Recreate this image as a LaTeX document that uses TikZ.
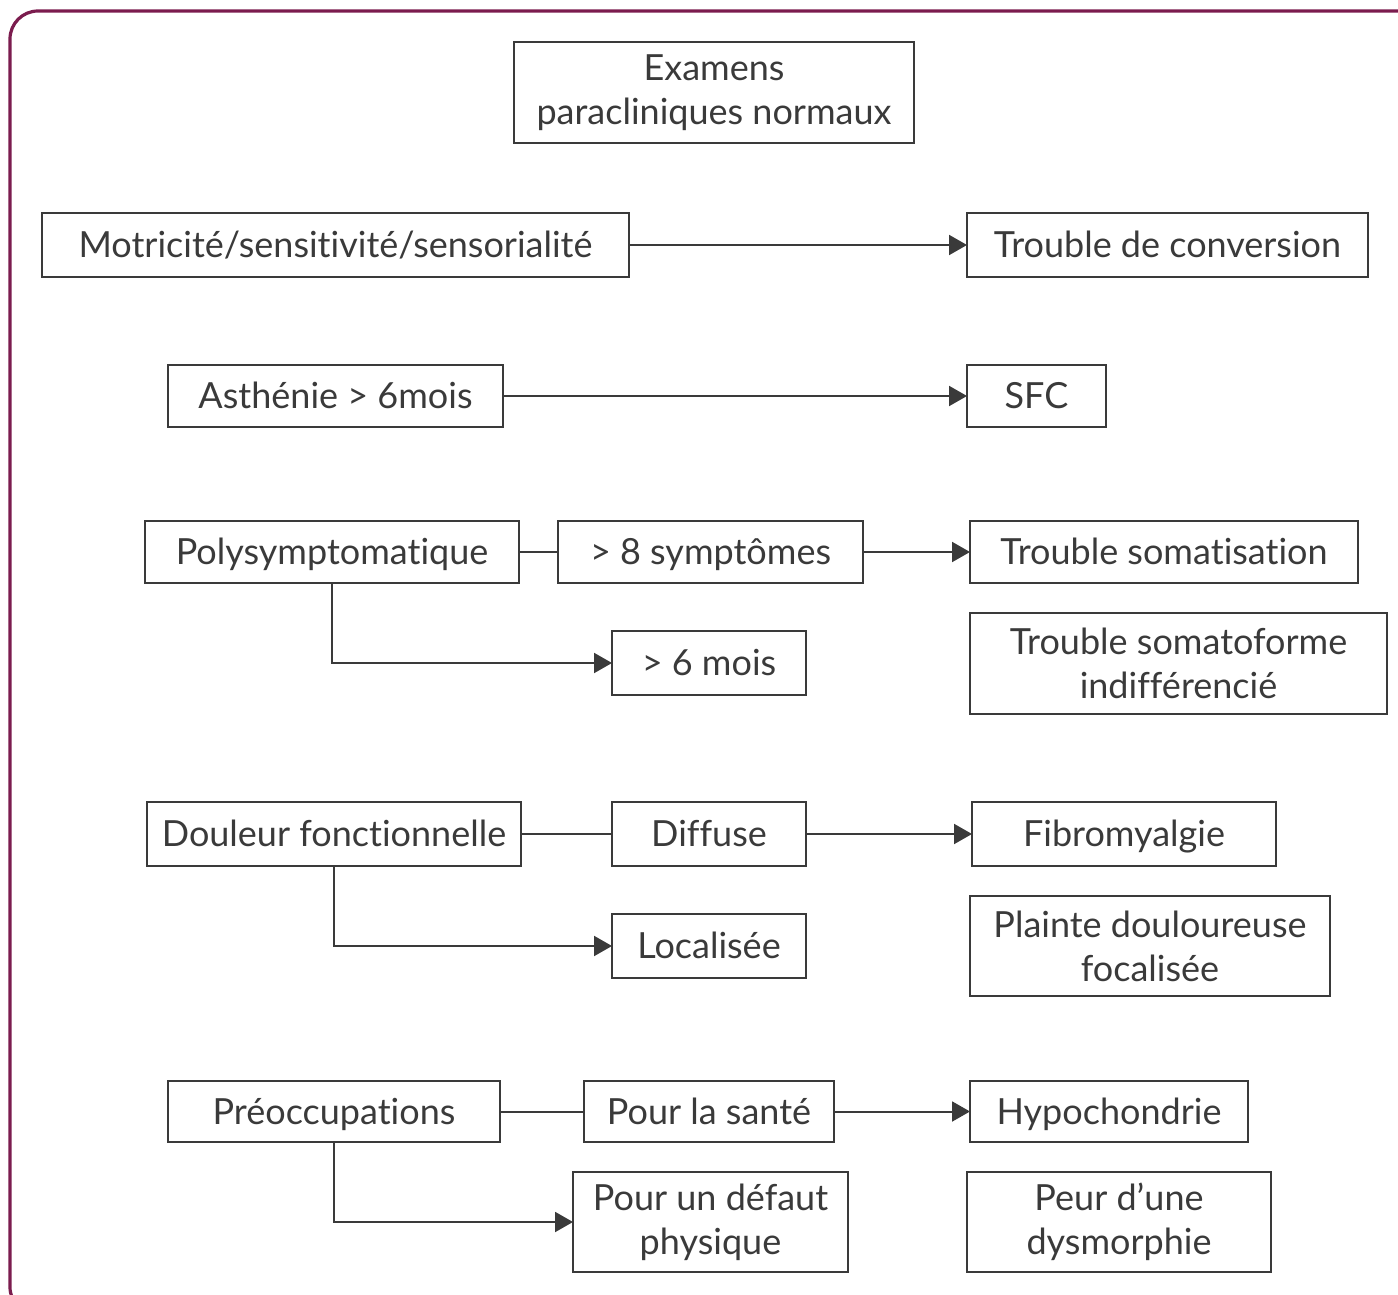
\documentclass[tikz,border=0pt]{standalone}
\usepackage{fontspec}
\setmainfont{Lato}[Ligatures={NoCommon}]
\usetikzlibrary{arrows.meta}
\definecolor{framec}{HTML}{7B1C4E}
\definecolor{ink}{HTML}{3A3A3A}
\begin{document}
\begin{tikzpicture}[x=0.5pt,y=-0.5pt,
  box/.style={draw=ink, line width=1pt, inner sep=0pt, outer sep=0pt, align=center,
    text=ink, font=\fontsize{18}{22}\selectfont},
  one/.style={box, text height=12.8pt, text depth=0pt},
  conn/.style={draw=ink, line width=1pt},
  arr/.style={conn, -{Triangle[length=9pt,width=10pt]}}]
\useasboundingbox (0,0) rectangle (1398,1295);
\begin{scope}
\clip (0,0) rectangle (1398,1295);
\draw[framec, line width=1.6pt, rounded corners=14pt] (10,11) rectangle (1430,1315);
\end{scope}
\node[box, minimum width=200pt, minimum height=50.5pt] (exam) at (714,92.5) {Examens\\paracliniques normaux};
\node[one, minimum width=293.5pt, minimum height=32pt] (mot) at (335.5,245) {Motricité/sensitivité/sensorialité};
\node[one, minimum width=200.5pt, minimum height=32pt] (conv) at (1167.5,245) {Trouble de conversion};
\node[one, minimum width=167.5pt, minimum height=31pt] (asth) at (335.5,396) {Asthénie > 6mois};
\node[one, minimum width=69.5pt, minimum height=31pt] (sfc) at (1036.5,396) {SFC};
\node[one, minimum width=187pt, minimum height=31pt] (poly) at (332,552) {Polysymptomatique};
\node[one, minimum width=152.5pt, minimum height=31pt] (huit) at (710.5,552) {> 8 symptômes};
\node[one, minimum width=194pt, minimum height=31pt] (soma) at (1164,552) {Trouble somatisation};
\node[one, minimum width=97pt, minimum height=32pt] (six) at (709,663) {> 6 mois};
\node[box, minimum width=208.5pt, minimum height=50.5pt] (indiff) at (1178.5,663.5) {Trouble somatoforme\\indifférencié};
\node[one, minimum width=187pt, minimum height=32pt] (doul) at (334,834) {Douleur fonctionnelle};
\node[one, minimum width=97pt, minimum height=32pt] (diff) at (709,834) {Diffuse};
\node[one, minimum width=152pt, minimum height=32pt] (fibro) at (1124,834) {Fibromyalgie};
\node[one, minimum width=97pt, minimum height=32pt] (loc) at (709,946) {Localisée};
\node[box, minimum width=180pt, minimum height=50pt] (plainte) at (1150,946) {Plainte douloureuse\\focalisée};
\node[one, minimum width=166pt, minimum height=30.5pt] (preo) at (334,1111.5) {Préoccupations};
\node[one, minimum width=125pt, minimum height=30.5pt] (sante) at (709,1111.5) {Pour la santé};
\node[one, minimum width=139pt, minimum height=30.5pt] (hypo) at (1109,1111.5) {Hypochondrie};
\node[box, minimum width=137.5pt, minimum height=50pt] (defaut) at (710.5,1222) {Pour un défaut\\physique};
\node[box, minimum width=152pt, minimum height=50pt] (peur) at (1119,1222) {Peur d’une\\dysmorphie};
\draw[arr] (mot) -- (conv);
\draw[arr] (asth) -- (sfc);
\draw[conn] (poly) -- (huit);
\draw[arr] (huit) -- (soma);
\draw[arr] (poly.south) |- (six.west);
\draw[conn] (doul) -- (diff);
\draw[arr] (diff) -- (fibro);
\draw[arr] (doul.south) |- (loc.west);
\draw[conn] (preo) -- (sante);
\draw[arr] (sante) -- (hypo);
\draw[arr] (preo.south) |- (defaut.west);
\end{tikzpicture}
\end{document}
